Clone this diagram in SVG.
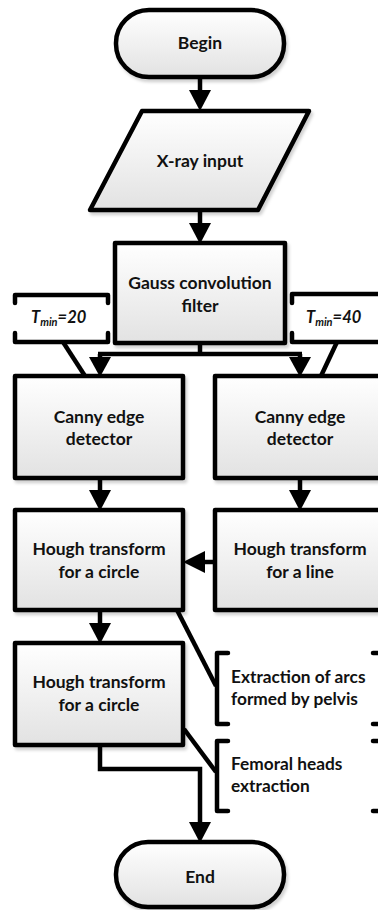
<svg xmlns="http://www.w3.org/2000/svg" width="378" height="910" viewBox="0 0 378 910">
<defs>
<linearGradient id="g" x1="0" y1="0" x2="0" y2="1">
<stop offset="0" stop-color="#ffffff"/>
<stop offset="1" stop-color="#e2e2e2"/>
</linearGradient>
<filter id="sh" x="-10%" y="-10%" width="130%" height="130%">
<feDropShadow dx="2" dy="3" stdDeviation="1.5" flood-color="#000" flood-opacity="0.18"/>
</filter>
</defs>
<style>
.n{fill:url(#g);stroke:#000;stroke-width:4.5;stroke-linejoin:round;filter:url(#sh)}
.t{font-family:Lato,"Liberation Sans",sans-serif;font-weight:bold;font-size:17.5px;fill:#111;text-anchor:middle}
.a{font-family:Lato,"Liberation Sans",sans-serif;font-weight:bold;font-size:17.3px;fill:#111}
.ti{font-family:Lato,"Liberation Sans",sans-serif;font-weight:bold;font-style:italic;font-size:16.5px;fill:#111}
.c{fill:none;stroke:#000;stroke-width:4.5;stroke-linejoin:miter}
.br{fill:none;stroke:#000;stroke-width:4.5;stroke-linecap:round;stroke-linejoin:round}
.h{fill:#000;stroke:none}
</style>

<g id="connectors">
<path class="c" d="M200,77 V92"/>
<polygon class="h" points="189,90 211,90 200,111"/>
<path class="c" d="M200,210 V225"/>
<polygon class="h" points="189,223 211,223 200,244"/>
<path class="c" d="M200,343 V354 M98,354 H302 M100,354 V360 M300,354 V360"/>
<polygon class="h" points="89,357 111,357 100,377"/>
<polygon class="h" points="289,357 311,357 300,377"/>
<path class="c" d="M100,478 V492"/>
<polygon class="h" points="89,490 111,490 100,511"/>
<path class="c" d="M300,478 V492"/>
<polygon class="h" points="289,490 311,490 300,511"/>
<path class="c" d="M215,562 H200"/>
<polygon class="h" points="183,562 205,551 205,573"/>
<path class="c" d="M100,610 V625"/>
<polygon class="h" points="89,623 111,623 100,644"/>
<path class="c" d="M100,745 V769 H200 V825"/>
<polygon class="h" points="189,822 211,822 200,843"/>
<path class="c" d="M63,342 L85,376"/>
<path class="c" d="M337,342 L321,376"/>
<path class="c" d="M177,610 L216,686"/>
<path class="c" d="M184,729 L216,772"/>
</g>

<g id="begin">
<rect class="n" x="116" y="10" width="168" height="67" rx="33"/>
<text class="t" x="200" y="49">Begin</text>
</g>

<g id="xray">
<polygon class="n" points="142,111 309,111 258,210 90,210"/>
<text class="t" x="200" y="167">X-ray input</text>
</g>

<g id="gauss">
<rect class="n" x="115" y="243" width="170" height="100"/>
<text class="t" x="200" y="289">Gauss convolution</text>
<text class="t" x="200" y="312">filter</text>
</g>

<g id="tmin20">
<path class="br" d="M15,303 V295 H108 V303 M15,333 V342 H108 V333"/>
<text class="ti" x="31" y="323">T<tspan font-size="11" dy="3">min</tspan><tspan dy="-3">=20</tspan></text>
</g>

<g id="tmin40">
<path class="br" d="M292,303 V294 H385 M292,333 V342 H385"/>
<text class="ti" x="306" y="323">T<tspan font-size="11" dy="3">min</tspan><tspan dy="-3">=40</tspan></text>
</g>

<g id="canny1">
<rect class="n" x="15" y="376" width="168" height="102"/>
<text class="t" x="99" y="423">Canny edge</text>
<text class="t" x="99" y="445">detector</text>
</g>

<g id="canny2">
<rect class="n" x="215" y="376" width="180" height="102"/>
<text class="t" x="300" y="423">Canny edge</text>
<text class="t" x="300" y="445">detector</text>
</g>

<g id="hough-circle1">
<rect class="n" x="15" y="510" width="168" height="100"/>
<text class="t" x="99" y="555">Hough transform</text>
<text class="t" x="99" y="578">for a circle</text>
</g>

<g id="hough-line">
<rect class="n" x="215" y="510" width="180" height="100"/>
<text class="t" x="300" y="555">Hough transform</text>
<text class="t" x="300" y="578">for a line</text>
</g>

<g id="hough-circle2">
<rect class="n" x="15" y="643" width="168" height="102"/>
<text class="t" x="99" y="688">Hough transform</text>
<text class="t" x="99" y="711">for a circle</text>
</g>

<g id="note-arcs">
<path class="br" d="M228,653 H217 V724 H228 M373,653 H385 M373,724 H385"/>
<text class="a" x="231" y="683">Extraction of arcs</text>
<text class="a" x="231" y="705">formed by pelvis</text>
</g>

<g id="note-femoral">
<path class="br" d="M228,741 H217 V811 H228 M373,741 H385 M373,811 H385"/>
<text class="a" x="231" y="770">Femoral heads</text>
<text class="a" x="231" y="792">extraction</text>
</g>

<g id="end">
<rect class="n" x="116" y="842" width="168" height="65" rx="32"/>
<text class="t" x="200" y="883">End</text>
</g>
</svg>
